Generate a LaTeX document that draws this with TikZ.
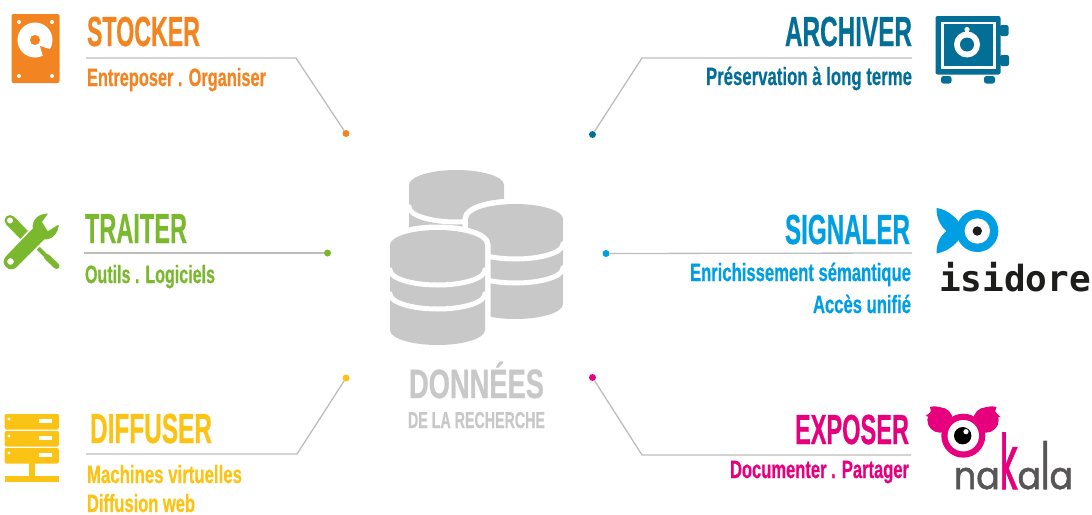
\documentclass[tikz,border=0pt]{standalone}
\usepackage{fontspec}
\setmainfont[BoldFeatures={FakeBold=0.7}]{Liberation Sans}
\newfontfamily\isifont{DejaVu Sans Mono}
\newfontfamily\nakfont[FakeBold=1.6]{Poppins}
\definecolor{cOrange}{HTML}{F28522}
\definecolor{cGreen}{HTML}{7AB82E}
\definecolor{cYellow}{HTML}{FBC313}
\definecolor{cTeal}{HTML}{036E96}
\definecolor{cBlue}{HTML}{009EE2}
\definecolor{cPink}{HTML}{E6007E}
\definecolor{cGrey}{HTML}{C8C8C8}
\definecolor{cLine}{HTML}{BDBDBD}
\definecolor{cDark}{HTML}{1D1D1B}
\definecolor{cNak}{HTML}{575556}
\newcommand{\fitw}[2]{\resizebox{#1pt}{\height}{\bfseries #2}}
\tikzset{
  lbl/.style={inner sep=0pt,outer sep=0pt},
  head/.style={lbl,font=\fontsize{42}{42}\selectfont},
  sub/.style={lbl,font=\fontsize{25}{25}\selectfont},
  wire/.style={draw=cLine,line width=1.3pt},
  dot/.style={circle,inner sep=0pt,minimum size=7pt}
}
\newcommand{\cylbody}[3]{% cx, yc, height
  (#1-47.5,#2) arc[start angle=180,end angle=0,x radius=47.5pt,y radius=15pt]
  -- (#1+47.5,#2+#3) arc[start angle=360,end angle=180,x radius=47.5pt,y radius=15pt] -- cycle}
\newcommand{\cylband}[3]{% cx, yc, offset
  \draw[white,line width=5pt] (#1-49.5,#2+#3-1) -- (#1-47.5,#2+#3) arc[start angle=180,end angle=360,x radius=47.5pt,y radius=15pt] -- (#1+49.5,#2+#3-1);}
\begin{document}
\begin{tikzpicture}[x=1pt,y=-1pt]
\useasboundingbox (0,0) rectangle (1092,514);
% --- database
\fill[cGrey] \cylbody{456.5}{185}{60};
\cylband{456.5}{185}{22}
\filldraw[fill=cGrey,draw=white,line width=11pt] \cylbody{515.5}{219}{85};
\fill[cGrey] \cylbody{515.5}{219}{85};
\cylband{515.5}{219}{25}
\cylband{515.5}{219}{49}
\filldraw[fill=cGrey,draw=white,line width=11pt] \cylbody{437.5}{245}{85};
\fill[cGrey] \cylbody{437.5}{245}{85};
\cylband{437.5}{245}{25}
\cylband{437.5}{245}{49}
\node[lbl,anchor=base west,text=cGrey,font=\fontsize{41}{41}\selectfont] (donnees) at (409,398) {\fitw{135}{DONNÉES}};
\node[lbl,anchor=base west,text=cGrey,font=\fontsize{23}{23}\selectfont] (recherche) at (408,428) {\fitw{137}{DE LA RECHERCHE}};
% --- STOCKER
\node[head,anchor=base west,text=cOrange] (stocker) at (87,46) {\fitw{113}{STOCKER}};
\node[sub,anchor=base west,text=cOrange] (stockerSub) at (87,86) {\fitw{179}{Entreposer . Organiser}};
\coordinate (stockerA) at (86,58);
\coordinate (stockerB) at (296,58);
\node[dot,fill=cOrange] (stockerDot) at (346,133.5) {};
\draw[wire] (stockerA) -- (stockerB) -- (stockerDot);
\fill[cOrange,rounded corners=2pt] (11.5,14) rectangle (59.5,83);
\fill[white] (35,40) circle (17.5);
\fill[cOrange] (35,40) circle (5);
\fill[cOrange] (40,46) -- (51,49.5) -- (43.5,58) -- cycle;
\foreach \p in {(19,22),(52,22),(19,76),(52,76)} \fill[white] \p circle (2);
% --- ARCHIVER
\node[head,anchor=base east,text=cTeal] (archiver) at (912,46) {\fitw{127}{ARCHIVER}};
\node[sub,anchor=base east,text=cTeal] (archiverSub) at (912,85) {\fitw{206}{Préservation à long terme}};
\coordinate (archiverA) at (912,58);
\coordinate (archiverB) at (642,58);
\node[dot,fill=cTeal] (archiverDot) at (592.5,134.5) {};
\draw[wire] (archiverA) -- (archiverB) -- (archiverDot);
\fill[cTeal,rounded corners=2pt] (935.5,16) rectangle (1000.5,74.5);
\draw[white,line width=2.4pt] (942.5,23) rectangle (994.5,67.5);
\fill[white] (967,44.5) circle (13);
\fill[white] (965,29) rectangle (969,34);
\fill[white] (967,29.5) circle (2.6);
\fill[cTeal] (967,44.5) circle (7);
\fill[cTeal,rounded corners=2pt] (1000,25) -- (1008.5,25) -- (1008.5,36) -- (1000,36) -- cycle;
\fill[cTeal,rounded corners=2pt] (1000,55) -- (1009,55) -- (1009,66) -- (1000,66) -- cycle;
\fill[cTeal,rounded corners=2.5pt] (941,76) rectangle (951.5,83.5);
\fill[cTeal,rounded corners=2.5pt] (984,76) rectangle (995,83.5);
% --- TRAITER
\node[head,anchor=base west,text=cGreen] (traiter) at (85,243) {\fitw{102}{TRAITER}};
\node[sub,anchor=base west,text=cGreen] (traiterSub) at (85,283) {\fitw{130}{Outils . Logiciels}};
\coordinate (traiterA) at (84,253);
\node[dot,fill=cGreen] (traiterDot) at (327.5,253) {};
\draw[wire] (traiterA) -- (traiterDot);
\draw[cGreen,line width=11pt,line cap=round] (10,220.5) -- (14,224.5);
\draw[cGreen,line width=11pt] (14,224.5) -- (26,237);
\fill[white] (10,220.5) circle (3);
\draw[cGreen,line width=4pt] (38,248) -- (47,257);
\draw[cGreen,line width=6pt,line cap=round] (47,257) -- (56.5,266);
\filldraw[fill=cGreen,draw=white,line width=1.5pt] (5,256) -- (32,228) .. controls (31,219) and (38,212) .. (49.5,213) -- (43,222) -- (48,230) -- (59.5,223) .. controls (60,234) and (52,241) .. (45,240) -- (17,268) .. controls (9,275) and (-2,264) .. (5,256) -- cycle;
\fill[white] (10.5,261.5) circle (3.3);
% --- SIGNALER
\node[head,anchor=base east,text=cBlue] (signaler) at (910,244) {\fitw{125}{SIGNALER}};
\node[sub,anchor=base east,text=cBlue] (signalerSub) at (911,281) {\fitw{221}{Enrichissement sémantique}};
\node[sub,anchor=base east,text=cBlue] (signalerSubB) at (911,313) {\fitw{98}{Accès unifié}};
\coordinate (signalerA) at (912,253);
\node[dot,fill=cBlue] (signalerDot) at (606,253.5) {};
\draw[wire] (signalerA) -- (signalerDot);
\fill[cBlue] (936.7,208) .. controls (950,210) and (958,220) .. (962,227) -- (962,235) .. controls (958,242) and (950,251) .. (936.7,253.5) .. controls (936,244) and (940,236) .. (946.5,231) .. controls (940,226) and (936,217) .. (936.7,208) -- cycle;
\fill[cBlue] (977.3,231) circle (21);
\fill[white] (977.3,231) circle (12.7);
\fill[cDark] (977.3,231) circle (4.7);
\node[lbl,anchor=base west,text=cDark,font=\isifont\bfseries\fontsize{36}{36}\selectfont] (isidore) at (939,291.5) {isidore};
% --- DIFFUSER
\node[head,anchor=base west,text=cYellow] (diffuser) at (90,443) {\fitw{122}{DIFFUSER}};
\node[sub,anchor=base west,text=cYellow] (diffuserSub) at (87,483) {\fitw{155}{Machines virtuelles}};
\node[sub,anchor=base west,text=cYellow] (diffuserSubB) at (87,512) {\fitw{108}{Diffusion web}};
\coordinate (diffuserA) at (86,454);
\coordinate (diffuserB) at (297,454);
\node[dot,fill=cYellow] (diffuserDot) at (346,378) {};
\draw[wire] (diffuserA) -- (diffuserB) -- (diffuserDot);
\foreach \yy in {414,431,448} {
  \fill[cYellow,rounded corners=2pt] (4.5,\yy) rectangle (59,\yy+15.5);
  \fill[white] (9,\yy+5) circle (1.6);
  \fill[white] (39,\yy+5) rectangle (52,\yy+9);
}
\fill[cYellow] (29,463) rectangle (35,476);
\fill[cYellow] (4.5,475.5) rectangle (59,482);
% --- EXPOSER
\node[head,anchor=base east,text=cPink] (exposer) at (909,444) {\fitw{114}{EXPOSER}};
\node[sub,anchor=base east,text=cPink] (exposerSub) at (909,478) {\fitw{179}{Documenter . Partager}};
\coordinate (exposerA) at (911,455);
\coordinate (exposerB) at (642,455);
\node[dot,fill=cPink] (exposerDot) at (592.5,377.5) {};
\draw[wire] (exposerA) -- (exposerB) -- (exposerDot);
\fill[cPink] (940,420) circle (12.7);
\fill[cPink] (986,420) circle (12.7);
\fill[cPink] (930,407) .. controls (938,405) and (944,408) .. (949,413) -- (935,425) -- (930,417) -- (925.5,416) -- (931,412) -- cycle;
\fill[cPink] (996.5,407) .. controls (988,405) and (982,408) .. (977,413) -- (991,425) -- (996,417) -- (1000.5,417) -- (995,412) -- cycle;
\fill[cPink] (963.3,435.7) circle (22);
\fill[white] (963.3,435.7) circle (15.7);
\fill[black] (962.7,435.7) circle (8.7);
\fill[white] (966,431.7) circle (2.6);
\node[lbl,anchor=base west,text=cNak,font=\nakfont\fontsize{38}{38}\selectfont] (nakala) at (954,489)
  {\resizebox{119pt}{\height}{na\textcolor{cPink}{\scalebox{1}[2]{k}}a\scalebox{1}[1.7]{l}a}};
\end{tikzpicture}
\end{document}
